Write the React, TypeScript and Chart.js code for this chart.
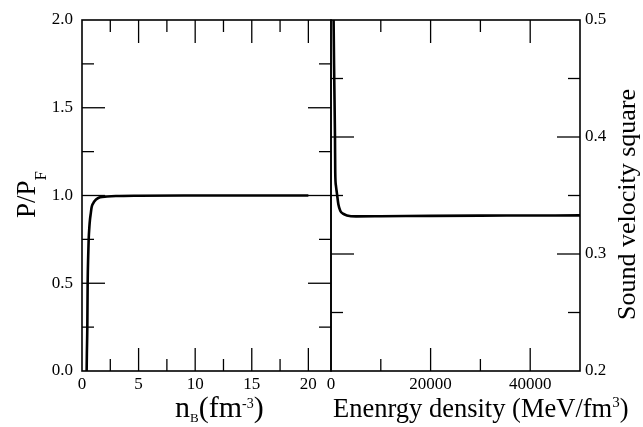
import React, { useEffect, useRef } from "react";
import { Chart, registerables } from "chart.js";

Chart.register(...registerables);

// Left panel: P/P_F vs n_B
const nB = [0.41, 0.43, 0.47, 0.5, 0.55, 0.59, 0.65, 0.7, 0.78, 0.85, 1.0, 1.15, 1.35, 1.6, 2.2, 3, 5, 10, 15, 20];
const pRatio = [0, 0.1, 0.25, 0.5, 0.66, 0.75, 0.82, 0.86, 0.9, 0.933, 0.957, 0.971, 0.982, 0.99, 0.994, 0.997, 0.999, 1.0, 1.0, 1.0];

// Right panel: sound velocity square vs energy density
const energy = [450, 520, 650, 800, 850, 1000, 1200, 1500, 1860, 2400, 3200, 5000, 10000, 20000, 30000, 40000, 50000];
const cs2 = [0.56, 0.5, 0.45, 0.4, 0.37, 0.358, 0.3515, 0.342, 0.337, 0.3345, 0.333, 0.3322, 0.3323, 0.3326, 0.3328, 0.3329, 0.333];

const leftXTicks = [0, 5, 10, 15, 20];
const leftYTicks = [0, 0.5, 1.0, 1.5, 2.0];
const rightXTicks = [0, 20000, 40000];
const rightYTicks = [0.2, 0.3, 0.4, 0.5];

const leftXMajor = [5, 10, 15, 20];
const leftXMinor = [2.5, 7.5, 12.5, 17.5];
const leftYMajor = [0.5, 1.0, 1.5];
const leftYMinor = [0.25, 0.75, 1.25, 1.75];
const rightXMajor = [20000, 40000];
const rightXMinor = [10000, 30000];
const rightYMajor = [0.3, 0.4];
const rightYMinor = [0.25, 0.35, 0.45];

const FONT = "'Liberation Serif', 'DejaVu Serif', serif";
const W = 643;
const H = 427;

type Seg = { t: string; size: number; dy: number };

function drawRich(ctx: CanvasRenderingContext2D, segs: Seg[], x: number, y: number, rot: number) {
  ctx.save();
  ctx.translate(x, y);
  ctx.rotate(rot);
  ctx.fillStyle = "#000";
  ctx.textBaseline = "alphabetic";
  ctx.textAlign = "left";
  let cx = 0;
  for (const s of segs) {
    ctx.font = `${s.size}px ${FONT}`;
    ctx.fillText(s.t, cx, s.dy);
    cx += ctx.measureText(s.t).width;
  }
  ctx.restore();
}

function frameTicks(chart: any, xMaj: number[], xMin: number[], yMaj: number[], yMin: number[]) {
  const { ctx, chartArea, scales } = chart;
  const { left, right, top, bottom } = chartArea;
  const xs = scales.x;
  const ys = scales.y;
  ctx.save();
  ctx.strokeStyle = "#000";
  ctx.lineWidth = 1.3;
  const majL = 23;
  const minL = 12;
  const line = (x1: number, y1: number, x2: number, y2: number) => {
    ctx.beginPath();
    ctx.moveTo(x1, y1);
    ctx.lineTo(x2, y2);
    ctx.stroke();
  };
  for (const v of xMaj) {
    const p = xs.getPixelForValue(v);
    line(p, bottom, p, bottom - majL);
    line(p, top, p, top + majL);
  }
  for (const v of xMin) {
    const p = xs.getPixelForValue(v);
    line(p, bottom, p, bottom - minL);
    line(p, top, p, top + minL);
  }
  for (const v of yMaj) {
    const p = ys.getPixelForValue(v);
    line(left, p, left + majL, p);
    line(right, p, right - majL, p);
  }
  for (const v of yMin) {
    const p = ys.getPixelForValue(v);
    line(left, p, left + minL, p);
    line(right, p, right - minL, p);
  }
  ctx.lineWidth = 1.6;
  ctx.strokeRect(left, top, right - left, bottom - top);
  ctx.restore();
}

export default function App() {
  const leftRef = useRef<HTMLCanvasElement>(null);
  const rightRef = useRef<HTMLCanvasElement>(null);

  useEffect(() => {
    document.body.style.margin = "0";
    const tickFont = { family: FONT, size: 17 };
    const noGrid = { display: false, drawTicks: false };

    const leftChart = new Chart(leftRef.current!, {
      type: "line",
      data: {
        datasets: [
          {
            data: nB.map((x, i) => ({ x, y: pRatio[i] })),
            borderColor: "#000",
            borderWidth: 2.6,
            pointRadius: 0,
            cubicInterpolationMode: "monotone",
            fill: false,
          },
        ],
      },
      options: {
        animation: false,
        responsive: false,
        maintainAspectRatio: false,
        layout: { padding: { left: 0, right: W - 331, top: 20, bottom: 0 } },
        plugins: { legend: { display: false }, tooltip: { enabled: false } },
        scales: {
          x: {
            type: "linear",
            min: 0,
            max: 22,
            grid: noGrid,
            border: { display: false },
            ticks: { font: tickFont, color: "#000", padding: 3, maxRotation: 0, autoSkip: false },
            afterBuildTicks: (s: any) => {
              s.ticks = leftXTicks.map((v) => ({ value: v }));
            },
            afterFit: (s: any) => {
              s.height = 56;
            },
          },
          y: {
            type: "linear",
            min: 0,
            max: 2,
            grid: noGrid,
            border: { display: false },
            ticks: {
              font: tickFont,
              color: "#000",
              padding: 9,
              autoSkip: false,
              callback: (v: any) => Number(v).toFixed(1),
            },
            afterBuildTicks: (s: any) => {
              s.ticks = leftYTicks.map((v) => ({ value: v }));
            },
            afterFit: (s: any) => {
              s.width = 82;
            },
          },
        },
      },
      plugins: [
        {
          id: "leftDeco",
          afterDraw: (chart: any) => {
            frameTicks(chart, leftXMajor, leftXMinor, leftYMajor, leftYMinor);
            const ctx = chart.ctx;
            drawRich(
              ctx,
              [
                { t: "P/P", size: 27, dy: 0 },
                { t: "F", size: 17, dy: 11 },
              ],
              35,
              218,
              -Math.PI / 2
            );
            drawRich(
              ctx,
              [
                { t: "n", size: 30, dy: 0 },
                { t: "B", size: 13, dy: 5 },
                { t: "(fm", size: 30, dy: 0 },
                { t: "-3", size: 14, dy: -9 },
                { t: ")", size: 30, dy: 0 },
              ],
              175,
              417,
              0
            );
          },
        },
      ],
    } as any);

    const rightChart = new Chart(rightRef.current!, {
      type: "line",
      data: {
        datasets: [
          {
            data: energy.map((x, i) => ({ x, y: cs2[i] })),
            borderColor: "#000",
            borderWidth: 2.6,
            pointRadius: 0,
            cubicInterpolationMode: "monotone",
            fill: false,
          },
        ],
      },
      options: {
        animation: false,
        responsive: false,
        maintainAspectRatio: false,
        layout: { padding: { left: 331, right: 0, top: 20, bottom: 0 } },
        plugins: { legend: { display: false }, tooltip: { enabled: false } },
        scales: {
          x: {
            type: "linear",
            min: 0,
            max: 50000,
            grid: noGrid,
            border: { display: false },
            ticks: { font: tickFont, color: "#000", padding: 3, maxRotation: 0, autoSkip: false, callback: (v: any) => String(v) },
            afterBuildTicks: (s: any) => {
              s.ticks = rightXTicks.map((v) => ({ value: v }));
            },
            afterFit: (s: any) => {
              s.height = 56;
            },
          },
          y: {
            type: "linear",
            position: "right",
            min: 0.2,
            max: 0.5,
            grid: noGrid,
            border: { display: false },
            ticks: {
              font: tickFont,
              color: "#000",
              padding: 5,
              autoSkip: false,
              callback: (v: any) => Number(v).toFixed(1),
            },
            afterBuildTicks: (s: any) => {
              s.ticks = rightYTicks.map((v) => ({ value: v }));
            },
            afterFit: (s: any) => {
              s.width = W - 580;
            },
          },
        },
      },
      plugins: [
        {
          id: "rightDeco",
          afterDraw: (chart: any) => {
            frameTicks(chart, rightXMajor, rightXMinor, rightYMajor, rightYMinor);
            const ctx = chart.ctx;
            drawRich(
              ctx,
              [
                { t: "Enenrgy density (MeV/fm", size: 26.5, dy: 0 },
                { t: "3", size: 15, dy: -10 },
                { t: ")", size: 26.5, dy: 0 },
              ],
              333,
              417,
              0
            );
            drawRich(ctx, [{ t: "Sound velocity square", size: 26, dy: 0 }], 635, 320, -Math.PI / 2);
          },
        },
      ],
    } as any);

    return () => {
      leftChart.destroy();
      rightChart.destroy();
    };
  }, []);

  return (
    <div style={{ position: "fixed", left: 0, top: 0, width: W, height: H, background: "#fff" }}>
      <canvas ref={leftRef} width={W} height={H} style={{ position: "absolute", left: 0, top: 0 }} />
      <canvas ref={rightRef} width={W} height={H} style={{ position: "absolute", left: 0, top: 0 }} />
    </div>
  );
}
